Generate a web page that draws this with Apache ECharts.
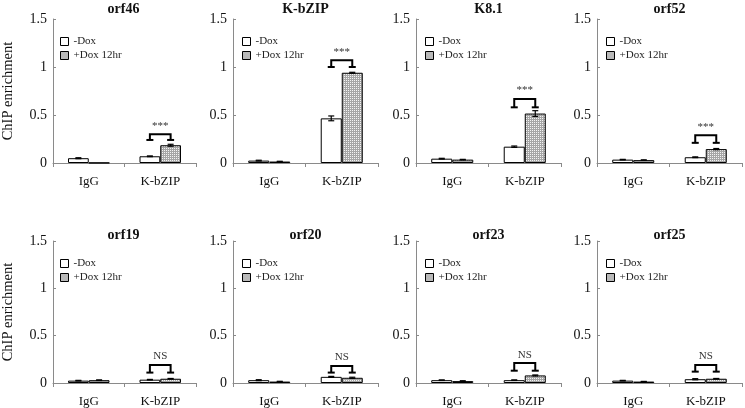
<!DOCTYPE html>
<html>
<head>
<meta charset="utf-8">
<script src="https://cdn.jsdelivr.net/npm/echarts@6/dist/echarts.min.js"></script>
<style>html,body{margin:0;padding:0;background:#fff}#c{width:745px;height:408px}</style>
</head>
<body>
<div id="c"></div>
<script>
// ---- data ----
const panels = ['orf46', 'K-bZIP', 'K8.1', 'orf52', 'orf19', 'orf20', 'orf23', 'orf25'];
const categories = ['IgG', 'K-bZIP'];
const seriesNames = ['-Dox', '+Dox 12hr'];
const minusDox = [[0.05, 0.07], [0.025, 0.465], [0.045, 0.17], [0.035, 0.06],
                  [0.025, 0.035], [0.03, 0.065], [0.03, 0.03], [0.025, 0.04]];
const plusDox = [[0.002, 0.185], [0.015, 0.94], [0.035, 0.515], [0.03, 0.145],
                 [0.03, 0.045], [0.015, 0.055], [0.02, 0.08], [0.015, 0.045]];
const minusErr = [[0.005, 0.004], [0.004, 0.025], [0.004, 0.007], [0.003, 0.004],
                  [0.003, 0.003], [0.005, 0.005], [0.003, 0.003], [0.003, 0.006]];
const plusErr = [[0.0, 0.01], [0.003, 0.005], [0.003, 0.03], [0.003, 0.006],
                 [0.003, 0.003], [0.003, 0.006], [0.004, 0.005], [0.002, 0.003]];
const bracketTop = [0.30, 1.07, 0.667, 0.29, 0.19, 0.18, 0.21, 0.19];
const bracketBottom = [0.24, 1.0, 0.58, 0.21, 0.11, 0.11, 0.13, 0.12];
const sigLabels = ['***', '***', '***', '***', 'NS', 'NS', 'NS', 'NS'];
const yMin = 0, yMax = 1.5, yInterval = 0.5;

// ---- layout / style ----
const FONT = 'Liberation Serif';
const gridLeft = [51, 233, 416, 597, 51, 233, 416, 597];
const gridTop = [19, 19, 19, 19, 241, 241, 241, 241];
const titleTop = [2, 2, 2, 2, 228, 228, 228, 228];
const gridW = 145, gridH = [144, 144, 144, 144, 145, 145, 145, 145];
const BAR_FRAC = 0.29;

const pat = document.createElement('canvas');
pat.width = 2; pat.height = 2;
const pctx = pat.getContext('2d');
pctx.fillStyle = '#a6a6a6'; pctx.fillRect(0, 0, 2, 2);
pctx.fillStyle = '#f4f4f4'; pctx.fillRect(0, 0, 1, 1);
const patternFill = { image: pat, repeat: 'repeat' };

const grid = [], xAxis = [], yAxis = [], series = [], title = [], legend = [];

panels.forEach((name, p) => {
  grid.push({ left: gridLeft[p], top: gridTop[p], width: gridW, height: gridH[p], containLabel: false });
  title.push({
    text: name, left: gridLeft[p] + gridW / 2, top: titleTop[p], textAlign: 'center', padding: 0,
    textStyle: { fontFamily: FONT, fontSize: 14, fontWeight: 'bold', color: '#111' }
  });
  legend.push({
    data: seriesNames, orient: 'vertical', left: gridLeft[p] + 9, top: gridTop[p] + 17,
    itemWidth: 8, itemHeight: 8, itemGap: 3, icon: 'rect', selectedMode: false,
    padding: 0,
    itemStyle: { borderColor: '#000', borderWidth: 1 },
    textStyle: { fontFamily: FONT, fontSize: 11, color: '#222' }
  });
  xAxis.push({
    gridIndex: p, type: 'category', data: categories,
    axisLine: { lineStyle: { color: '#8a8a8a', width: 1 } },
    axisTick: { show: true, length: 4, lineStyle: { color: '#8a8a8a' } },
    axisLabel: { fontFamily: FONT, fontSize: 13, color: '#111', margin: 12 }
  });
  const ya = {
    gridIndex: p, type: 'value', min: yMin, max: yMax, interval: yInterval,
    axisLine: { show: true, lineStyle: { color: '#8a8a8a', width: 1 } },
    axisTick: { show: true, inside: true, length: 3, lineStyle: { color: '#8a8a8a' } },
    splitLine: { show: false },
    axisLabel: { fontFamily: FONT, fontSize: 14, color: '#111', margin: 6 }
  };
  if (p % 4 === 0) {
    ya.name = 'ChIP enrichment';
    ya.nameLocation = 'middle';
    ya.nameGap = 37;
    ya.nameTextStyle = { fontFamily: FONT, fontSize: 14.5, color: '#111' };
  }
  yAxis.push(ya);

  series.push({
    name: seriesNames[0], type: 'bar', xAxisIndex: p, yAxisIndex: p,
    data: minusDox[p], barWidth: (BAR_FRAC * 100) + '%', barGap: '0%',
    itemStyle: { color: '#ffffff', borderColor: '#000', borderWidth: 1 },
    emphasis: { disabled: true }, animation: false
  });
  series.push({
    name: seriesNames[1], type: 'bar', xAxisIndex: p, yAxisIndex: p,
    data: plusDox[p], barWidth: (BAR_FRAC * 100) + '%', barGap: '0%',
    itemStyle: { color: patternFill, borderColor: '#000', borderWidth: 1 },
    emphasis: { disabled: true }, animation: false
  });

  // error bars
  const errData = [];
  categories.forEach((c, i) => {
    errData.push([i, minusDox[p][i], minusErr[p][i], -1]);
    errData.push([i, plusDox[p][i], plusErr[p][i], 1]);
  });
  series.push({
    type: 'custom', xAxisIndex: p, yAxisIndex: p, data: errData, z: 5,
    silent: true, animation: false,
    renderItem: (params, api) => {
      const i = api.value(0), v = api.value(1), e = api.value(2), side = api.value(3);
      if (!(e > 0)) return null;
      const band = api.size([1, 0])[0];
      const bw = band * BAR_FRAC;
      const x = api.coord([i, v])[0] + side * bw / 2;
      const yT = api.coord([i, v + e])[1];
      const yB = api.coord([i, v - e])[1];
      const cw = 3;
      const st = { stroke: '#000', lineWidth: 1.2 };
      return {
        type: 'group', children: [
          { type: 'line', shape: { x1: x, y1: yT, x2: x, y2: yB }, style: st },
          { type: 'line', shape: { x1: x - cw, y1: yT, x2: x + cw, y2: yT }, style: st },
          { type: 'line', shape: { x1: x - cw, y1: yB, x2: x + cw, y2: yB }, style: st }
        ]
      };
    }
  });

  // significance bracket
  series.push({
    type: 'custom', xAxisIndex: p, yAxisIndex: p, z: 6, silent: true, animation: false,
    data: [[1, bracketTop[p], bracketBottom[p]]],
    renderItem: (params, api) => {
      const i = api.value(0);
      const band = api.size([1, 0])[0];
      const bw = band * BAR_FRAC;
      const cx = api.coord([i, 0])[0];
      const x1 = cx - bw / 2, x2 = cx + bw / 2;
      const yT = api.coord([i, api.value(1)])[1];
      const yB = api.coord([i, api.value(2)])[1];
      const st = { stroke: '#000', lineWidth: 2 };
      const cw = 3.5;
      return {
        type: 'group', children: [
          { type: 'polyline', shape: { points: [[x1, yB], [x1, yT], [x2, yT], [x2, yB]] }, style: Object.assign({ fill: null }, st) },
          { type: 'line', shape: { x1: x1 - cw, y1: yB, x2: x1 + cw, y2: yB }, style: st },
          { type: 'line', shape: { x1: x2 - cw, y1: yB, x2: x2 + cw, y2: yB }, style: st },
          { type: 'text', x: cx, y: yT - 3, style: { text: sigLabels[p], textAlign: 'center', textVerticalAlign: 'bottom', fontFamily: FONT, fontSize: 11, fill: '#333' } }
        ]
      };
    }
  });
});

const chart = echarts.init(document.getElementById('c'), null, { renderer: 'canvas' });
chart.setOption({
  backgroundColor: '#ffffff',
  animation: false,
  title, legend, grid, xAxis, yAxis, series
});
</script>
</body>
</html>
